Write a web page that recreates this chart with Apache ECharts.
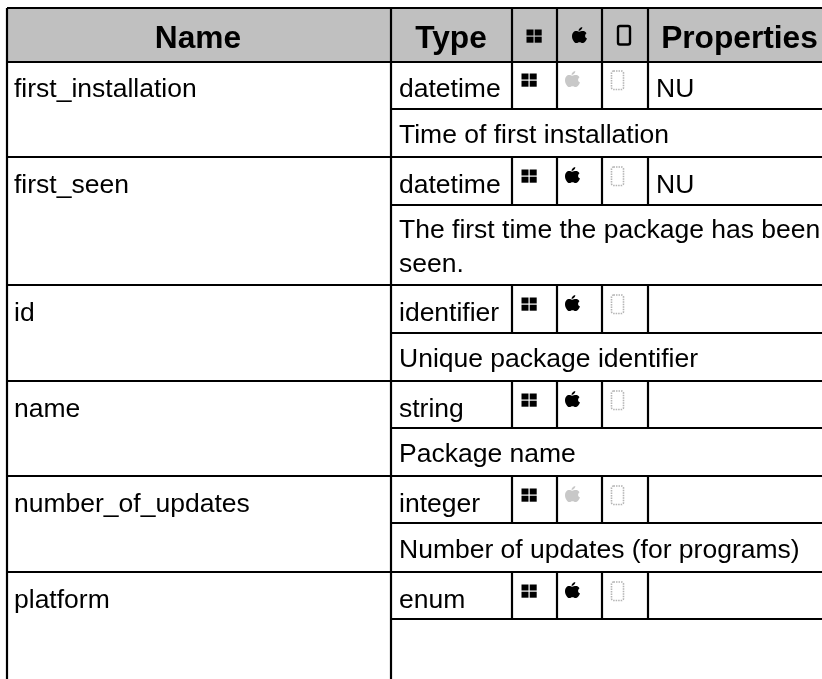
<!DOCTYPE html>
<html lang="en">

<head>
    <meta charset="UTF-8">
    <title>Package fields</title>
    <style>
        html, body { margin: 0; background: #fff; }
        #main { width: 822px; height: 679px; }
    </style>
</head>

<body>
    <div id="main"></div>
    <script src="https://cdn.jsdelivr.net/npm/echarts@6/dist/echarts.min.js"></script>
    <script>
        // table content
        const headers = ['Name', 'Type', 'Properties'];
        const names = ['first_installation', 'first_seen', 'id', 'name', 'number_of_updates', 'platform'];
        const types = ['datetime', 'datetime', 'identifier', 'string', 'integer', 'enum'];
        const windows = [1, 1, 1, 1, 1, 1];
        const apple = [0, 1, 1, 1, 0, 1];
        const phone = [0, 0, 0, 0, 0, 0];
        const props = ['NU', 'NU', '', '', '', ''];
        const descriptions = [
            'Time of first installation',
            'The first time the package has been\nseen.',
            'Unique package identifier',
            'Package name',
            'Number of updates (for programs)',
            ''
        ];

        // layout, in pixels
        const colX = [7, 391, 512, 557, 602, 648, 822];
        const headTop = 8, headBottom = 62;
        const rowTops = [62, 157, 285, 381, 476, 572];
        const rowMids = [109, 205, 333, 428, 523, 619];
        const rowEnds = [157, 285, 381, 476, 572, 679];
        const bodyFont = 26.5, headFont = 31.7;
        const black = '#000', dim = '#c8c8c8';

        const appleIcon = 'M11 0C11 2 9.500 4 7 4.300C7 2 8.500 .500 11 0ZM7.500 5C9 5 10 4.300 11.500 4.300C13 4.300 14.500 5 15.500 6.500C13.500 7.700 13.300 11 16 12.200C15 15 13 17 11.500 17C10 17 9.500 16.200 8 16.200C6.500 16.200 6 17 4.500 17C2.500 17 0 13 0 10C0 6.500 2 4.300 4.500 4.300C5.800 4.300 6.500 5 7.500 5Z';

        function text(x, y, str, size, weight, align) {
            return {
                type: 'text',
                style: {
                    x: x, y: y, text: str, fill: black,
                    font: weight + ' ' + size + 'px "Liberation Sans"',
                    lineHeight: 34, textAlign: align || 'left', textVerticalAlign: 'middle'
                }
            };
        }

        function line(x1, y1, x2, y2) {
            return {
                type: 'line',
                shape: { x1: x1, y1: y1, x2: x2, y2: y2 },
                style: { stroke: black, lineWidth: 2.2 }
            };
        }

        function winIcon(cx, cy, color) {
            const out = [];
            [[-7.5, -6.5, 7, 6], [0.7, -6.5, 7, 6], [-7.5, 0.7, 7, 6], [0.7, 0.7, 7, 6]].forEach(function (r) {
                out.push({ type: 'rect', shape: { x: cx + r[0], y: cy + r[1], width: r[2], height: r[3] }, style: { fill: color } });
            });
            return out;
        }

        function appleGlyph(cx, cy, color) {
            return {
                type: 'path',
                shape: { pathData: appleIcon, x: cx - 7.500, y: cy - 9, width: 15, height: 18 },
                style: { fill: color }
            };
        }

        function phoneGlyph(cx, cy, color, w, dash) {
            return {
                type: 'rect',
                shape: { x: cx - 6, y: cy - 9, width: 12, height: 18.500, r: 2 },
                style: { fill: 'none', stroke: color, lineWidth: w, lineDash: dash }
            };
        }

        // header band drawn once, with the first row
        function headerCells() {
            const out = [{
                type: 'rect',
                shape: { x: colX[0], y: headTop, width: 822 - colX[0], height: headBottom - headTop },
                style: { fill: '#c0c0c0' }
            }];
            out.push(text(198, 39, headers[0], headFont, 'bold', 'center'));
            out.push(text(451, 39, headers[1], headFont, 'bold', 'center'));
            out.push(text(739.500, 39, headers[2], headFont, 'bold', 'center'));
            out.push.apply(out, winIcon(534, 36, black));
            out.push(appleGlyph(579.500, 35, black));
            out.push(phoneGlyph(624, 35, black, 2.4));
            out.push(line(colX[0], headTop, 822, headTop));
            out.push(line(colX[0], headBottom, 822, headBottom));
            for (let i = 1; i < 6; i++) out.push(line(colX[i], headTop, colX[i], headBottom));
            out.push(line(colX[0], headTop, colX[0], 679));
            return out;
        }

        function renderRow(params) {
            const i = params.dataIndex;
            const top = rowTops[i], mid = rowMids[i], end = rowEnds[i];
            const rowTop = i === 0 ? 61 : top;
            const iconY = rowTop + 19;
            const kids = i === 0 ? headerCells() : [];

            kids.push(text(14, rowTop + 29, names[i], bodyFont, 'normal'));
            kids.push(text(399, rowTop + 29, types[i], bodyFont, 'normal'));
            kids.push(text(656, rowTop + 29, props[i], bodyFont, 'normal'));
            kids.push(text(399, (mid + end) / 2 + 3, descriptions[i], bodyFont, 'normal'));

            kids.push.apply(kids, winIcon(529, iconY, windows[i] ? black : dim));
            kids.push(appleGlyph(572.500, iconY - 1, apple[i] ? black : dim));
            kids.push(phoneGlyph(617.500, iconY, phone[i] ? black : '#b4b4b4', 1.6, [1.5, 1]));

            if (end < 679) kids.push(line(colX[0], end, 822, end));
            kids.push(line(colX[1], mid, 822, mid));
            kids.push(line(colX[1], top, colX[1], end));
            for (let c = 2; c < 6; c++) kids.push(line(colX[c], top, colX[c], mid));
            return { type: 'group', children: kids };
        }

        const chart = echarts.init(document.getElementById('main'), null, { renderer: 'canvas' });
        chart.setOption({
            animation: false,
            backgroundColor: '#fff',
            series: [{
                type: 'custom',
                coordinateSystem: 'none',
                data: names.map(function (n, i) { return [i]; }),
                renderItem: renderRow,
                silent: true,
                clip: false
            }]
        });
    </script>
</body>

</html>
